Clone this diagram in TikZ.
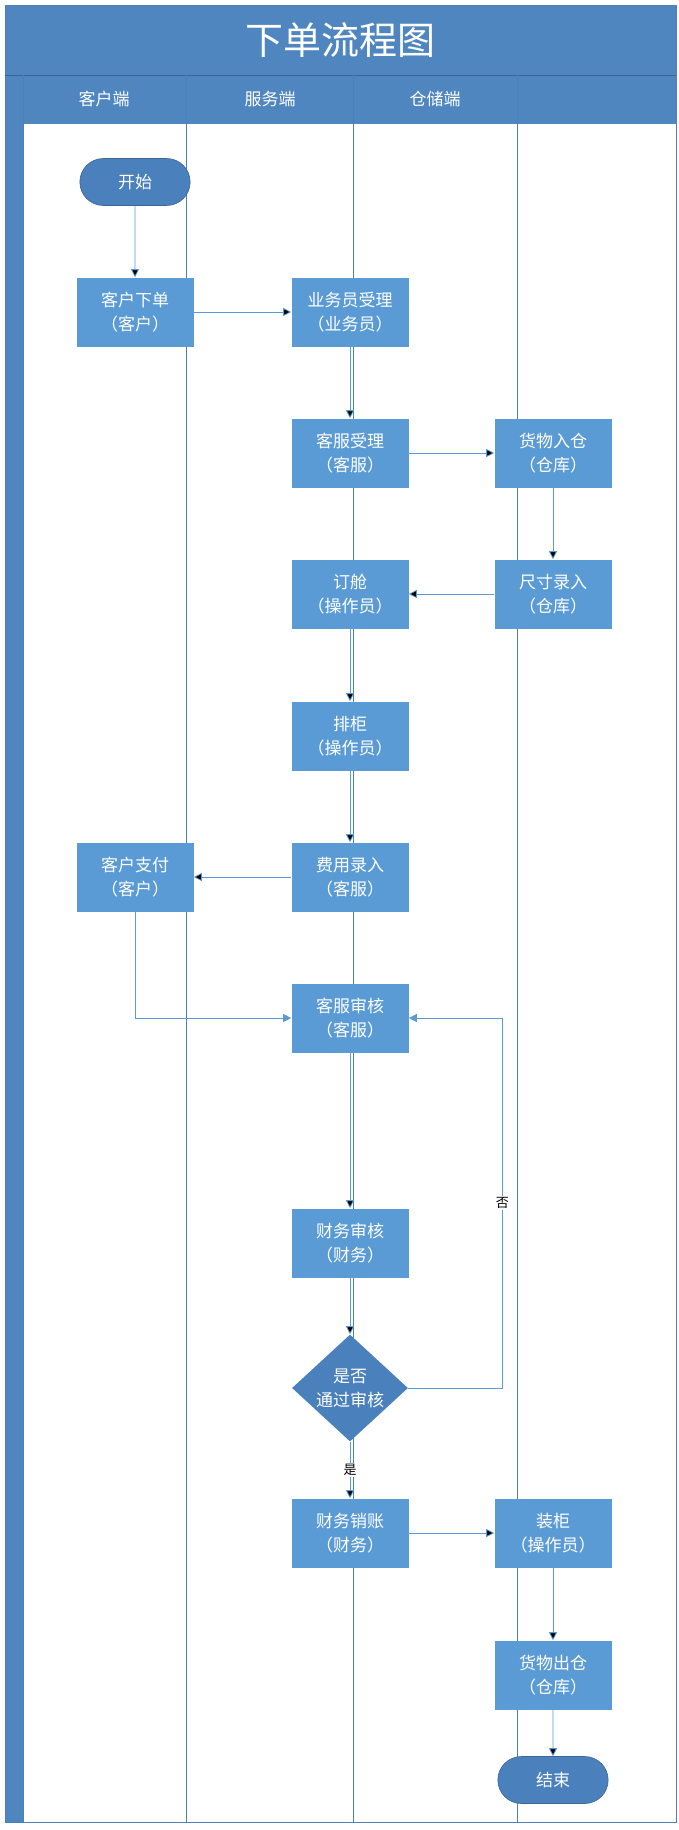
\documentclass[tikz,border=0pt]{standalone}
\usepackage{fontspec}
\setmainfont{Noto Sans CJK SC}
\usetikzlibrary{arrows.meta,shapes.geometric,shapes.misc,positioning}
\definecolor{boxblue}{HTML}{5B9BD5}
\definecolor{darkblue}{HTML}{4A80BC}
\definecolor{bandblue}{HTML}{4F86BF}
\definecolor{lineblue}{HTML}{5B9BD5}
\begin{document}
\begin{tikzpicture}[x=1pt,y=-1pt,>={Triangle[length=8pt,width=8pt]},semithick]
 \tikzset{
 	step box/.style={rectangle,fill=boxblue,text=white,minimum width=117pt,minimum height=69pt,align=center,font=\fontsize{17}{24}\selectfont,inner sep=0},
 	term box/.style={rounded rectangle,fill=darkblue,draw=darkblue!80!black,text=white,minimum width=117pt,minimum height=47pt,font=\fontsize{17}{20}\selectfont},
 	check box/.style={diamond,fill=darkblue,text=white,minimum width=116pt,minimum height=82pt,align=center,inner sep=0,font=\fontsize{17}{24}\selectfont},
 	flow/.style={draw=lineblue,thick,->},
 	lane/.style={draw=darkblue,thick}
 }
 \useasboundingbox (0,0) rectangle (678,1830);
 % frame and lanes
 \fill[bandblue] (5,5) rectangle (676,124);
 \fill[bandblue] (5,124) rectangle (23,1822);
 \draw[lane] (5,5) rectangle (676,1822);
 \draw[draw=darkblue!80!black] (5,75) -- (676,75);
 \foreach \x in {23,186,353,517} \draw[lane] (\x,75) -- (\x,1822);
 \node[text=white,font=\fontsize{38}{40}\selectfont] (title) at (340,40) {下单流程图};
 \node[text=white,font=\fontsize{17}{20}\selectfont] (lc) at (104,99) {客户端};
 \node[text=white,font=\fontsize{17}{20}\selectfont] (ls) at (270,99) {服务端};
 \node[text=white,font=\fontsize{17}{20}\selectfont] (lw) at (435,99) {仓储端};

 \node[term box] (start) at (135,182) {开始};
 \node[step box] (order) at (135,312) {客户下单\\（客户）};
 \node[step box] (accept) at (350,312) {业务员受理\\（业务员）};
 \node[step box] (service) at (350,453) {客服受理\\（客服）};
 \node[step box] (stockin) at (553,453) {货物入仓\\（仓库）};
 \node[step box] (size) at (553,594) {尺寸录入\\（仓库）};
 \node[step box] (book) at (350,594) {订舱\\（操作员）};
 \node[step box] (arrange) at (350,736) {排柜\\（操作员）};
 \node[step box] (fee) at (350,877) {费用录入\\（客服）};
 \node[step box] (pay) at (135,877) {客户支付\\（客户）};
 \node[step box] (audit) at (350,1018) {客服审核\\（客服）};
 \node[step box] (finaudit) at (350,1243) {财务审核\\（财务）};
 \node[check box] (pass) at (350,1388) {是否\\通过审核};
 \node[step box] (writeoff) at (350,1533) {财务销账\\（财务）};
 \node[step box] (load) at (553,1533) {装柜\\（操作员）};
 \node[step box] (stockout) at (553,1675) {货物出仓\\（仓库）};
 \node[term box] (end) at (553,1780) {结束};

 \path[flow] (start) edge (order);
 \path[flow] (order) edge (accept);
 \path[flow] (accept) edge (service);
 \path[flow] (service) edge (stockin);
 \path[flow] (stockin) edge (size);
 \path[flow] (size) edge (book);
 \path[flow] (book) edge (arrange);
 \path[flow] (arrange) edge (fee);
 \path[flow] (fee) edge (pay);
 \draw[flow] (pay) |- (audit);
 \path[flow] (audit) edge (finaudit);
 \path[flow] (finaudit) edge (pass);
 \draw[flow] (pass.east) -- ++(94,0) |- node[pos=0.25,fill=white,font=\fontsize{13}{15}\selectfont,inner sep=1pt] {否} (audit.east);
 \path[flow] (pass) edge node[fill=white,font=\fontsize{13}{15}\selectfont,inner sep=1pt] {是} (writeoff);
 \path[flow] (writeoff) edge (load);
 \path[flow] (load) edge (stockout);
 \path[flow] (stockout) edge (end);
\end{tikzpicture}
\end{document}
